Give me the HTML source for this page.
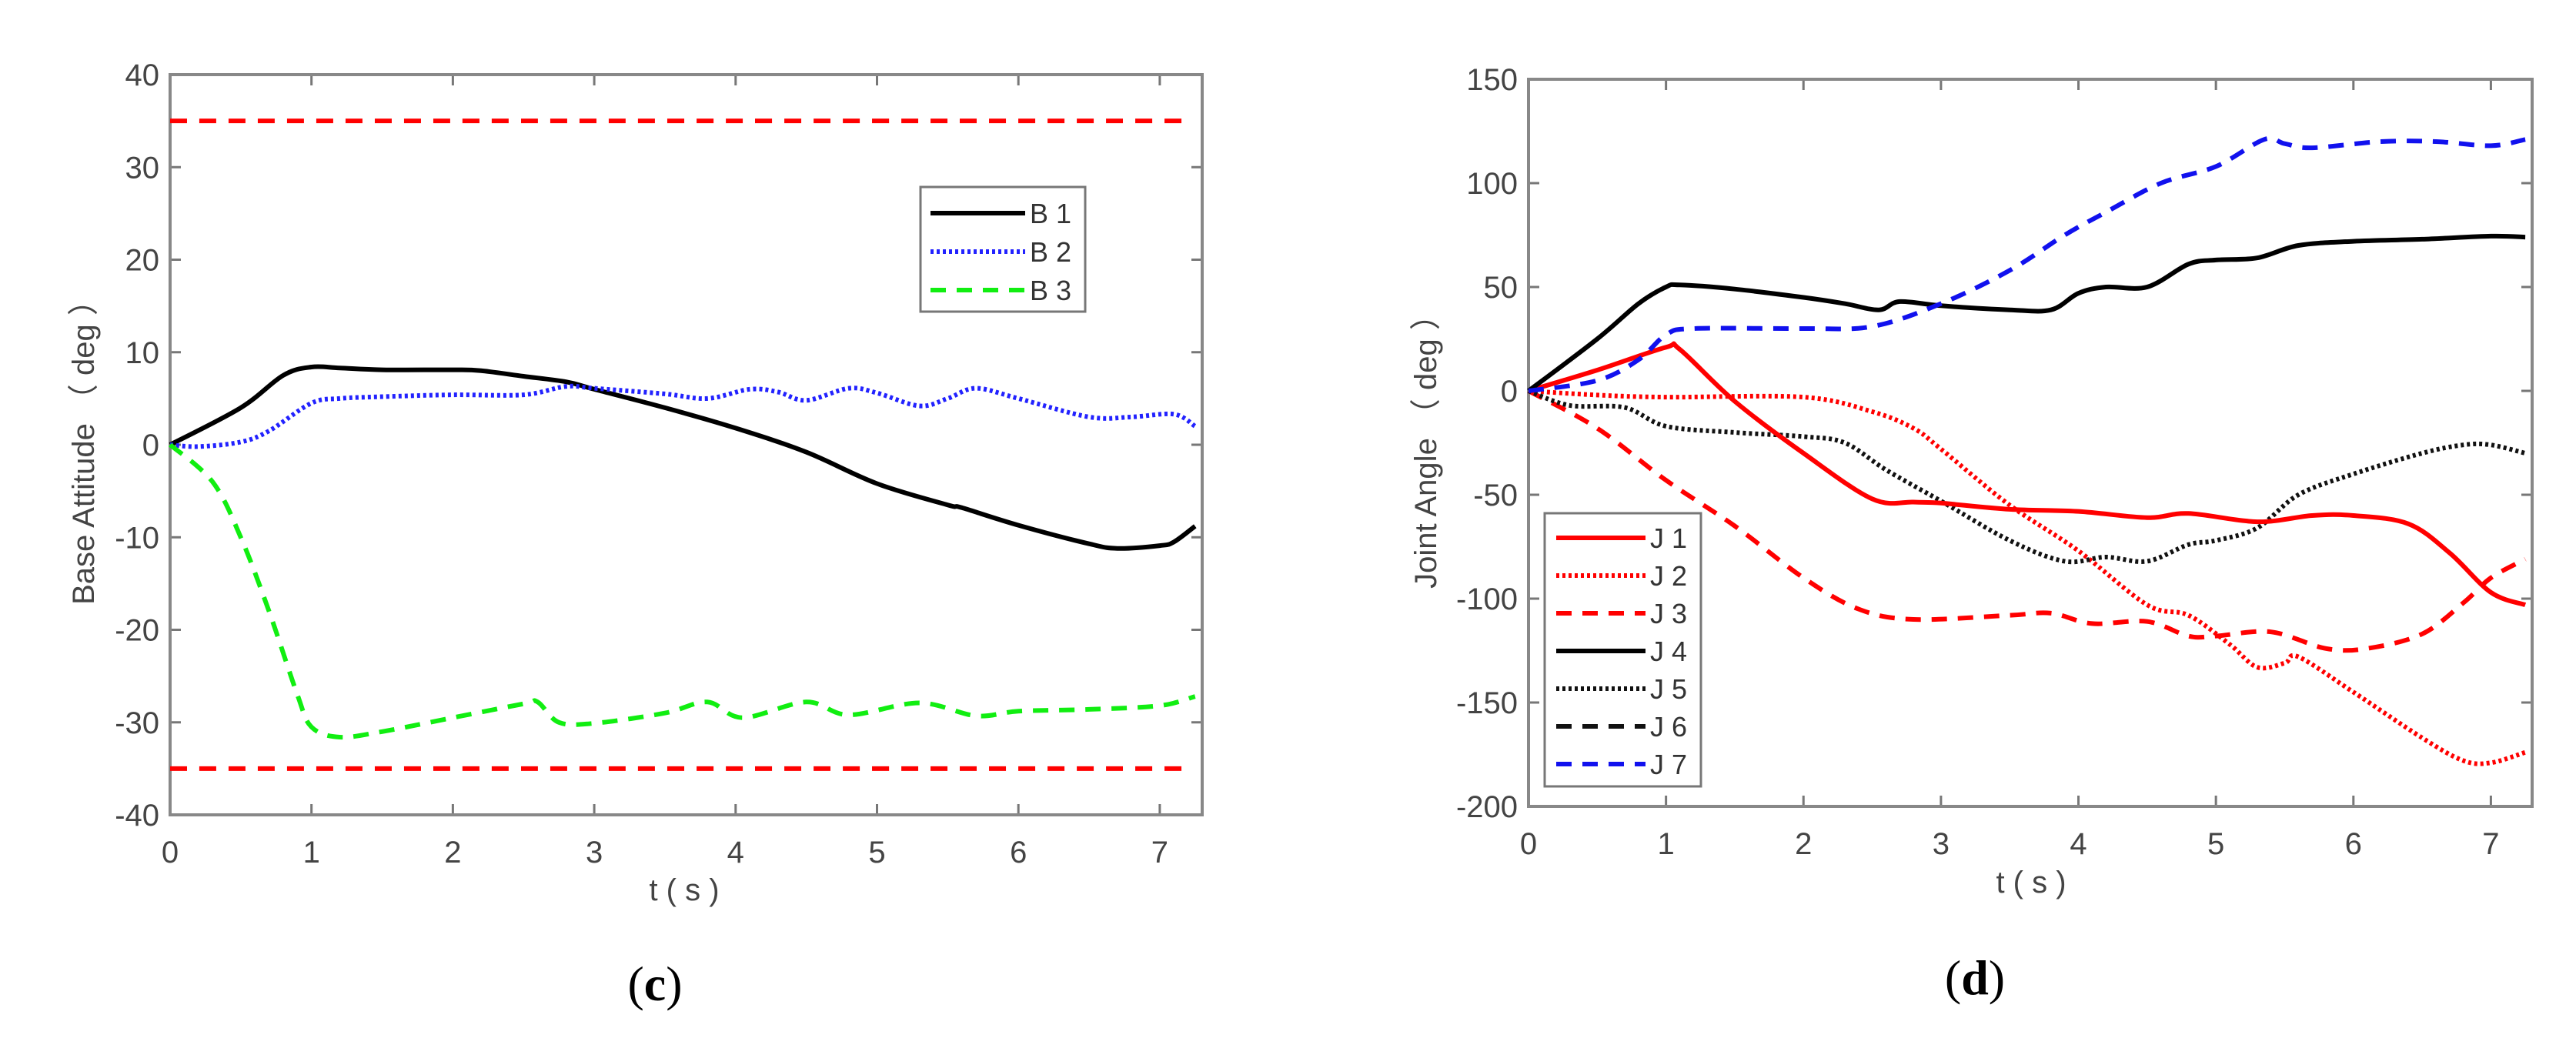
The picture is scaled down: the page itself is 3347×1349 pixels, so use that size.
<!DOCTYPE html>
<html><head><meta charset="utf-8"><style>
html,body{margin:0;padding:0;background:#fff;}
svg{display:block;}
</style></head><body>
<svg id="fig" width="3347" height="1349" viewBox="0 0 3347 1349" xmlns="http://www.w3.org/2000/svg" font-family="Liberation Sans, sans-serif"></svg>
<script>
// ---- Panel (c) data ----
const cT_B1=[0,0.5,0.8,1.0,1.2,1.5,2,2.2,2.5,2.8,3,3.5,4,4.5,5,5.5,5.6,6,6.5,6.7,7.0,7.1,7.25];
const cV_B1=[0,4,7.5,8.4,8.3,8.1,8.1,8.0,7.4,6.8,6.0,4.0,1.8,-0.8,-4.2,-6.5,-6.8,-8.7,-10.7,-11.2,-10.9,-10.5,-8.8];
const cT_B2=[0,0.2,0.5,0.7,1,1.2,1.5,2,2.5,2.8,3,3.5,3.8,4.1,4.3,4.5,4.8,5,5.3,5.5,5.7,6,6.5,6.8,7.1,7.25];
const cV_B2=[0,-0.2,0.3,1.5,4.5,5.0,5.2,5.4,5.4,6.3,6.1,5.5,5.0,6.0,5.7,4.8,6.1,5.6,4.2,5.0,6.1,5.0,3.0,3.0,3.3,2.0];
const cT_B3=[0,0.3,0.5,0.7,0.9,1.0,1.2,1.5,2,2.5,2.6,2.75,3,3.5,3.8,4.05,4.5,4.8,5.3,5.7,6,6.5,7,7.25];
const cV_B3=[0,-4,-10,-18,-27,-30.5,-31.6,-31,-29.5,-28,-27.8,-30,-30.1,-29,-27.8,-29.5,-27.8,-29.2,-27.9,-29.3,-28.8,-28.6,-28.2,-27.2];
const cLimits=[35,-35];
const cLimitT=[0,7.16];
const cYTicks=[40,30,20,10,0,-10,-20,-30,-40];
const xTicks=[0,1,2,3,4,5,6,7];
// ---- Panel (d) data ----
const dT_J1=[0,0.5,1.0,1.1,1.5,2,2.5,2.8,3,3.5,4,4.5,4.8,5.3,5.7,6,6.4,6.7,7,7.25];
const dV_J1=[0,10,21,20,-5,-30,-52,-53.5,-54,-57,-58,-61,-59,-63,-60,-60,-64,-78,-97,-103];
const dT_J2=[0,0.5,1,2,2.5,2.8,3,3.5,4,4.5,4.8,5.1,5.3,5.5,5.6,6,6.5,6.8,7.0,7.25];
const dV_J2=[0,-2,-3,-3,-10,-18,-28,-55,-77,-103,-108,-122,-133,-131,-128,-145,-167,-178,-179,-174];
const dT_J3=[0,0.5,1,1.5,2,2.4,2.8,3.5,3.8,4.1,4.5,4.8,5.0,5.4,5.8,6.1,6.5,6.8,7.0,7.25];
const dV_J3=[0,-18,-43,-65,-90,-105,-110,-108,-107,-112,-111,-118,-118,-116,-124,-124,-117,-102,-90,-81];
const dT_J4=[0,0.5,0.8,1.0,1.1,1.5,2,2.3,2.55,2.7,3.0,3.5,3.8,4,4.2,4.5,4.8,5,5.3,5.6,6,6.5,7,7.25];
const dV_J4=[0,25,42,50,51,49,45,42,39,43,41,39,39,47,50,50,61,63,64,70,72,73,74.5,74];
const dT_J5=[0,0.3,0.7,1,1.5,2,2.3,2.6,3,3.5,3.9,4.2,4.5,4.8,5,5.3,5.6,6,6.5,6.8,7.0,7.25];
const dV_J5=[0,-7,-8,-17,-20,-22,-25,-38,-53,-72,-82,-80,-82,-74,-72,-66,-50,-40,-30,-26,-26,-30];
const dT_J7=[0,0.5,0.8,1,1.2,2,2.5,3,3.5,3.9,4.2,4.6,5,5.35,5.5,5.7,6.2,6.6,7,7.25];
const dV_J7=[0,5,15,27,30,30,31,42,58,75,86,100,108,121,119,117,120,120,118,121];
const dYTicks=[150,100,50,0,-50,-100,-150,-200];

const NS='http://www.w3.org/2000/svg';
const svg=document.getElementById('fig');
function mk(tag,attrs,parent){const e=document.createElementNS(NS,tag);for(const k in attrs)e.setAttribute(k,attrs[k]);(parent||svg).appendChild(e);return e;}
function smoothPath(p){
  let d='M'+p[0][0].toFixed(1)+','+p[0][1].toFixed(1);
  for(let i=0;i<p.length-1;i++){
    const p0=p[i-1]||p[i],p1=p[i],p2=p[i+1],p3=p[i+2]||p2;
    const c1x=p1[0]+(p2[0]-p0[0])/6,c1y=p1[1]+(p2[1]-p0[1])/6;
    const c2x=p2[0]-(p3[0]-p1[0])/6,c2y=p2[1]-(p3[1]-p1[1])/6;
    d+=' C'+c1x.toFixed(1)+','+c1y.toFixed(1)+' '+c2x.toFixed(1)+','+c2y.toFixed(1)+' '+p2[0].toFixed(1)+','+p2[1].toFixed(1);
  }
  return d;
}

function panel(P){
  const g=mk('g',{});
  
  
  const sx=t=>P.x0+(t-0)/(P.xmax)*(P.x1-P.x0);
  const sy=v=>P.y1-(v-P.ymin)/(P.ymax-P.ymin)*(P.y1-P.y0);
  P.yTicks.forEach(v=>{
    const y=sy(v);
    const tl=mk('line',{x1:P.x0,x2:P.x0+14,y1:y,y2:y,stroke:'#777','stroke-width':3},g);
    
    const tr=mk('line',{x1:P.x1,x2:P.x1-14,y1:y,y2:y,stroke:'#777','stroke-width':3},g);
    
    const t=mk('text',{x:P.x0-14,y:y+14,'text-anchor':'end','font-size':40,fill:'#444'},g);
    t.textContent=v;
    
  });
  xTicks.forEach(v=>{
    const x=sx(v);
    const tb=mk('line',{x1:x,x2:x,y1:P.y1,y2:P.y1-14,stroke:'#777','stroke-width':3},g);
    
    const tt=mk('line',{x1:x,x2:x,y1:P.y0,y2:P.y0+14,stroke:'#777','stroke-width':3},g);
    
    const t=mk('text',{x:x,y:P.y1+62,'text-anchor':'middle','font-size':40,fill:'#444'},g);
    t.textContent=v;
    
  });
  const box=mk('rect',{x:P.x0,y:P.y0,width:P.x1-P.x0,height:P.y1-P.y0,fill:'none',stroke:'#888','stroke-width':4},g);
  
  P.series.forEach(s=>{
    const pts=s.t.map((t,i)=>[sx(t),sy(s.v[i])]);
    const pl=mk('path',{d:smoothPath(pts),fill:'none',stroke:s.color,'stroke-width':s.w||6,'stroke-dasharray':s.dash||'none','stroke-linejoin':'round'},g);
    
  });
  const xl=mk('text',{x:P.xlab[0],y:P.xlab[1],'text-anchor':'middle','font-size':40,fill:'#444','xml:space':'preserve'},g);
  xl.textContent='t  (  s  )';
  
  const yl=mk('text',{x:0,y:0,transform:`translate(${P.ylab[0]},${P.ylab[1]}) rotate(-90)`,'text-anchor':'middle','font-size':40,fill:'#444'},g);
  yl.textContent=P.ytitle;
  
  const cap=mk('text',{x:P.cap[0],y:P.cap[1],'text-anchor':'middle','font-size':64,'font-family':'Liberation Serif, serif',fill:'#000'},g);
  cap.innerHTML='(<tspan font-weight="bold">'+P.capLetter+'</tspan>)';
  
  const L=P.legend;
  const lg=mk('g',{},g);
  
  mk('rect',{x:L.x,y:L.y,width:L.w,height:L.h,fill:'#fff',stroke:'#777','stroke-width':3},lg);
  L.items.forEach((it,i)=>{
    const y=L.firstY+i*L.step;
    const e=mk('g',{},lg);
    
    mk('line',{x1:L.lx0,x2:L.lx1,y1:y,y2:y,stroke:it.color,'stroke-width':it.w||6,'stroke-dasharray':it.dash||'none'},e);
    const t=mk('text',{x:L.lx1+6,y:y+13,'font-size':36,fill:'#333'},e);
    t.textContent=it.label;
  });
}

const cLimitSeries=cLimits.map(v=>({id:'limit-line',t:cLimitT,v:cLimitT.map(()=>v),color:'#ff0000',dash:'22 16'}));
panel({name:'chart-base-attitude',x0:221,x1:1562,y0:97,y1:1059,xmax:7.3,ymin:-40,ymax:40,yTicks:cYTicks,
  series:[...cLimitSeries,
    {id:'line-b1',t:cT_B1,v:cV_B1,color:'#000'},
    {id:'line-b2',t:cT_B2,v:cV_B2,color:'#2222ff',dash:'4 4'},
    {id:'line-b3',t:cT_B3,v:cV_B3,color:'#11ee11',dash:'20 14'}],
  xlab:[889,1170],ylab:[122,578],ytitle:'Base Attitude （ deg ）',cap:[851,1300],capLetter:'c',
  legend:{x:1196,y:243,w:214,h:162,firstY:277,step:50,lx0:1209,lx1:1332,items:[
    {label:'B 1',color:'#000'},{label:'B 2',color:'#2222ff',dash:'4 4'},{label:'B 3',color:'#11ee11',dash:'20 14'}]}
});
panel({name:'chart-joint-angle',x0:1986,x1:3290,y0:103,y1:1048,xmax:7.3,ymin:-200,ymax:150,yTicks:dYTicks,
  series:[
    {id:'line-j3',t:dT_J3,v:dV_J3,color:'#ff0000',dash:'20 14'},
    {id:'line-j2',t:dT_J2,v:dV_J2,color:'#ff0000',dash:'4 4'},
    {id:'line-j5',t:dT_J5,v:dV_J5,color:'#111',dash:'4 4'},
    {id:'line-j1',t:dT_J1,v:dV_J1,color:'#ff0000'},
    {id:'line-j4',t:dT_J4,v:dV_J4,color:'#000'},
    {id:'line-j7',t:dT_J7,v:dV_J7,color:'#1111ee',dash:'20 14'}],
  xlab:[2639,1160],ylab:[1866,577],ytitle:'Joint Angle （ deg ）',cap:[2566,1292],capLetter:'d',
  legend:{x:2007,y:667,w:203,h:355,firstY:699,step:49,lx0:2022,lx1:2138,items:[
    {label:'J 1',color:'#ff0000'},{label:'J 2',color:'#ff0000',dash:'4 4'},{label:'J 3',color:'#ff0000',dash:'20 14'},
    {label:'J 4',color:'#000'},{label:'J 5',color:'#111',dash:'4 4'},{label:'J 6',color:'#111',dash:'20 14'},
    {label:'J 7',color:'#1111ee',dash:'20 14'}]}
});
</script>
</body></html>
